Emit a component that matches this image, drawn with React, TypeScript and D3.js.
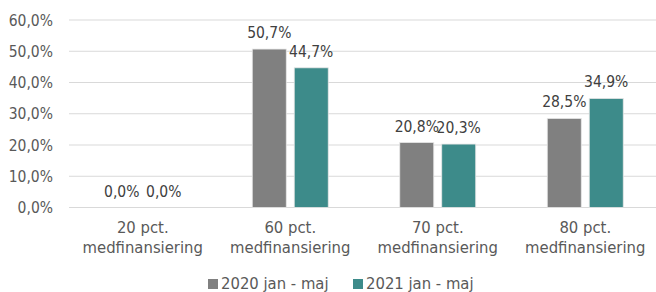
import React from 'react';
import * as d3 from 'd3';

const categories = ['20 pct.|medfinansiering', '60 pct.|medfinansiering', '70 pct.|medfinansiering', '80 pct.|medfinansiering'];
const seriesNames = ['2020 jan - maj', '2021 jan - maj'];
const values2020 = [0.0, 50.7, 20.8, 28.5];
const values2021 = [0.0, 44.7, 20.3, 34.9];
const yTicks = [0, 10, 20, 30, 40, 50, 60];
const colors = ['#808080', '#3d8b8a'];

const W = 656;
const H = 292;
const font = '"DejaVu Sans Condensed", "DejaVu Sans", sans-serif';

const fmt = (v: number) => v.toFixed(1).replace('.', ',') + '%';

const App = () => {
    const x0 = d3.scaleBand<string>()
        .domain(categories)
        .range([69, 659])
        .paddingInner(0.485)
        .paddingOuter(0.2425);

    const x1 = d3.scaleBand<string>()
        .domain(seriesNames)
        .range([0, x0.bandwidth()])
        .paddingInner(0.19);

    const y = d3.scaleLinear().domain([0, 60]).range([207.5, 20]);

    const series = [values2020, values2021];

    return (
        <svg width={W} height={H} style={{ position: 'absolute', left: 0, top: 0, fontFamily: font }}>
            {yTicks.map(t => (
                <g key={t}>
                    <line x1={69} x2={W} y1={y(t)} y2={y(t)} stroke="#d9d9d9" strokeWidth={1} />
                    <text x={53} y={y(t) + 5.5} textAnchor="end" fontSize={15.5} fill="#595959">{fmt(t)}</text>
                </g>
            ))}
            {categories.map((c, i) => (
                <g key={c} transform={`translate(${x0(c)},0)`}>
                    {series.map((vals, s) => {
                        const bx = x1(seriesNames[s]) as number;
                        const v = vals[i];
                        return (
                            <g key={s}>
                                {v > 0 && (
                                    <rect x={bx} y={y(v)} width={x1.bandwidth()} height={y(0) - y(v)}
                                        fill={colors[s]} stroke="#e6e6e6" strokeWidth={0.8} />
                                )}
                                <text x={bx + x1.bandwidth() / 2} y={y(v) - 11} textAnchor="middle"
                                    fontSize={15.5} fill="#404040">{fmt(v)}</text>
                            </g>
                        );
                    })}
                    {c.split('|').map((line, k) => (
                        <text key={k} x={x0.bandwidth() / 2} y={233 + k * 20} textAnchor="middle"
                            fontSize={16.5} fill="#595959">{line}</text>
                    ))}
                </g>
            ))}
            {seriesNames.map((n, s) => {
                const lx = s === 0 ? 208 : 353;
                return (
                    <g key={n}>
                        <rect x={lx} y={279} width={10} height={10} fill={colors[s]} />
                        <text x={lx + 13} y={288.5} fontSize={16.5} fill="#595959">{n}</text>
                    </g>
                );
            })}
        </svg>
    );
};

export default App;
